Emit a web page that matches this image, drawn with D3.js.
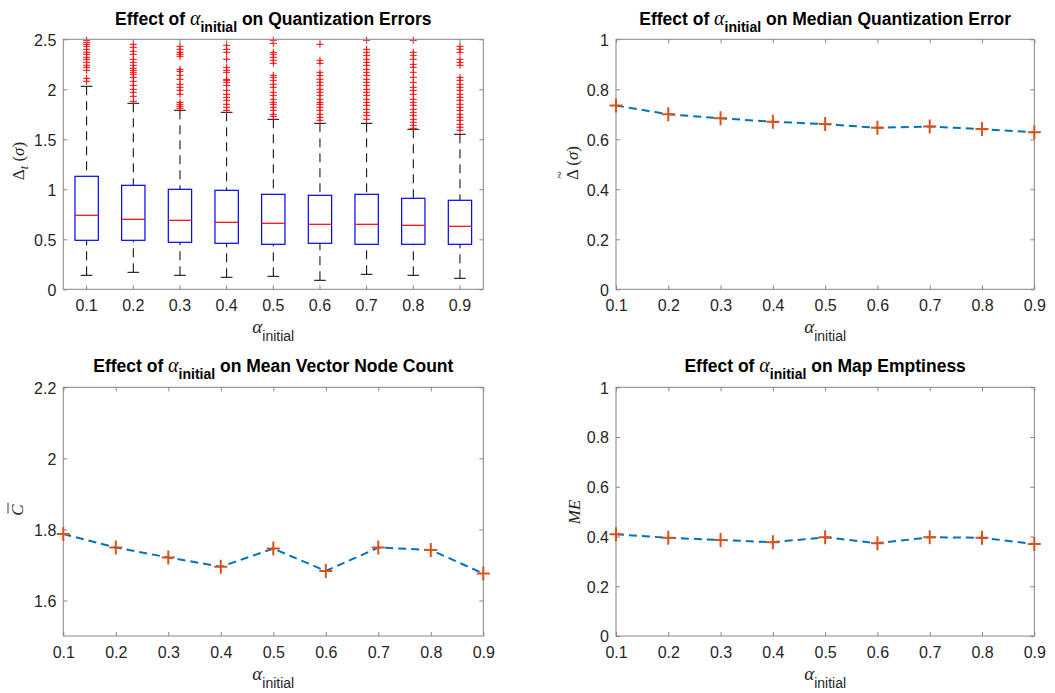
<!DOCTYPE html>
<html><head><meta charset="utf-8">
<script src="https://cdn.jsdelivr.net/npm/d3@7"></script>
<style>body{margin:0;background:#fff}svg{display:block}</style>
</head><body><svg id="c" width="1055" height="693"></svg>
<script>
// ---------------- DATA ----------------
const alphas = [0.1, 0.2, 0.3, 0.4, 0.5, 0.6, 0.7, 0.8, 0.9];
const alphaLabels = ["0.1","0.2","0.3","0.4","0.5","0.6","0.7","0.8","0.9"];

// Box plot statistics (quantization error, in sigma)
const whiskerLow  = [0.14, 0.17, 0.14, 0.12, 0.13, 0.09, 0.15, 0.14, 0.11];
const boxQ1       = [0.49, 0.49, 0.47, 0.46, 0.45, 0.46, 0.45, 0.45, 0.45];
const boxMedian   = [0.74, 0.70, 0.69, 0.67, 0.66, 0.65, 0.65, 0.64, 0.63];
const boxQ3       = [1.13, 1.04, 1.00, 0.99, 0.95, 0.94, 0.95, 0.91, 0.89];
const whiskerHigh = [2.03, 1.86, 1.79, 1.77, 1.70, 1.66, 1.66, 1.60, 1.55];

const outliers01 = [2.49, 2.47, 2.45, 2.43, 2.40, 2.37, 2.35, 2.32, 2.30, 2.27, 2.24, 2.22, 2.19, 2.11, 2.08];
const outliers02 = [2.45, 2.42, 2.38, 2.35, 2.30, 2.27, 2.24, 2.21, 2.19, 2.17, 2.15, 2.12, 2.08, 2.04, 2.00, 1.97, 1.93, 1.88];
const outliers03 = [2.43, 2.40, 2.37, 2.35, 2.33, 2.20, 2.18, 2.14, 2.10, 2.05, 2.02, 1.99, 1.95, 1.87, 1.85, 1.83, 1.81];
const outliers04 = [2.44, 2.40, 2.37, 2.30, 2.22, 2.19, 2.17, 2.10, 2.09, 2.07, 2.04, 1.99, 1.95, 1.92, 1.89, 1.85, 1.82, 1.79];
const outliers05 = [2.49, 2.46, 2.37, 2.35, 2.32, 2.29, 2.26, 2.14, 2.12, 2.09, 2.05, 2.02, 1.97, 1.94, 1.90, 1.87, 1.85, 1.82, 1.79, 1.75, 1.73];
const outliers06 = [2.45, 2.29, 2.26, 2.17, 2.14, 2.10, 2.07, 2.04, 2.00, 1.97, 1.94, 1.90, 1.87, 1.85, 1.82, 1.79, 1.75, 1.72, 1.69];
const outliers07 = [2.49, 2.40, 2.37, 2.34, 2.30, 2.27, 2.24, 2.20, 2.17, 2.14, 2.10, 2.07, 2.04, 2.00, 1.97, 1.94, 1.90, 1.87, 1.84, 1.80, 1.77, 1.74, 1.70];
const outliers08 = [2.49, 2.37, 2.34, 2.30, 2.25, 2.22, 2.17, 2.12, 2.07, 2.02, 1.99, 1.95, 1.90, 1.87, 1.84, 1.80, 1.77, 1.74, 1.70, 1.67, 1.64, 1.61];
const outliers09 = [2.43, 2.40, 2.37, 2.30, 2.27, 2.24, 2.12, 2.09, 2.05, 2.02, 1.99, 1.95, 1.92, 1.89, 1.85, 1.82, 1.79, 1.75, 1.72, 1.69, 1.65, 1.62, 1.59];

const medianError   = [0.735, 0.700, 0.684, 0.670, 0.661, 0.646, 0.651, 0.641, 0.628];
const meanNodeCount = [1.787, 1.749, 1.721, 1.695, 1.746, 1.683, 1.749, 1.742, 1.676];
const mapEmptiness  = [0.409, 0.395, 0.386, 0.377, 0.397, 0.373, 0.397, 0.395, 0.370];

const yTicksBox    = [0, 0.5, 1, 1.5, 2, 2.5];
const yTicksUnit   = [0, 0.2, 0.4, 0.6, 0.8, 1];
const yTicksCount  = [1.6, 1.8, 2, 2.2];

// ---------------- STYLE ----------------
const SANS = "'Liberation Sans', Arial, Helvetica, sans-serif";
const SERIF = "'Liberation Serif', 'DejaVu Serif', serif";
const AX = "#868686", TXT = "#262626";
const svg = d3.select("#c");

const outliers = [outliers01, outliers02, outliers03, outliers04, outliers05, outliers06, outliers07, outliers08, outliers09];
const boxes = alphaLabels.map((a, i) => ({a, lo: whiskerLow[i], q1: boxQ1[i], med: boxMedian[i], q3: boxQ3[i], hi: whiskerHigh[i], out: outliers[i]}));

function axesFrame(p, x, y, yTicks, yFmt, xTickValues) {
  const g = svg.append("g");
  // ticks inside
  const left = g.append("g").attr("transform", `translate(${p.l},0)`)
    .call(d3.axisLeft(y).tickValues(yTicks).tickFormat(yFmt).tickSize(-4).tickSizeOuter(0).tickPadding(7));
  const right = g.append("g").attr("transform", `translate(${p.r},0)`)
    .call(d3.axisRight(y).tickValues(yTicks).tickFormat("").tickSize(-4).tickSizeOuter(0));
  const bAx = d3.axisBottom(x).tickSize(-4).tickSizeOuter(0);
  const tAx = d3.axisTop(x).tickSize(-4).tickSizeOuter(0).tickFormat("");
  if (xTickValues) { bAx.tickValues(xTickValues).tickFormat((d, i) => alphaLabels[i]); tAx.tickValues(xTickValues); }
  const bottom = g.append("g").attr("transform", `translate(0,${p.b})`).call(bAx);
  const top = g.append("g").attr("transform", `translate(0,${p.t})`).call(tAx);
  [left, right, bottom, top].forEach(a => {
    a.select(".domain").remove();
    a.selectAll(".tick line").attr("stroke", AX);
    a.selectAll(".tick text").attr("fill", TXT).style("font-family", SANS).style("font-size", "16px");
  });
  left.selectAll(".tick text").attr("dy", "0.36em");
  bottom.selectAll(".tick text").attr("dy", null).attr("y", 22);
  g.append("rect").attr("x", p.l).attr("y", p.t).attr("width", p.r - p.l).attr("height", p.b - p.t)
    .attr("fill", "none").attr("stroke", AX).attr("stroke-width", 1);
  return g;
}

function title(p, y, rest) {
  const t = svg.append("text").attr("x", (p.l + p.r) / 2).attr("y", y).attr("text-anchor", "middle")
    .attr("fill", "#000").style("font-family", SANS).style("font-weight", "bold").style("font-size", "17.5px");
  t.append("tspan").text("Effect of ");
  t.append("tspan").text("α").style("font-family", SERIF).style("font-style", "italic").style("font-weight", "normal").style("font-size", "20px");
  t.append("tspan").text("initial").attr("dy", 7).style("font-size", "14px");
  t.append("tspan").text(" " + rest).attr("dy", -7);
}

function xLabel(p, y) {
  const t = svg.append("text").attr("x", (p.l + p.r) / 2).attr("y", y).attr("text-anchor", "middle")
    .attr("fill", TXT).style("font-family", SANS).style("font-size", "14px");
  t.append("tspan").text("α").style("font-family", SERIF).style("font-style", "italic").style("font-size", "19px");
  t.append("tspan").text("initial").attr("dy", 8);
}

function yLabelGroup(x, y) {
  return svg.append("g").attr("transform", `translate(${x},${y}) rotate(-90)`);
}

// ---------------- PANELS ----------------
const P1 = {l: 63.3, r: 483.3, t: 39.3, b: 289.3};
const P2 = {l: 616, r: 1034.3, t: 39.3, b: 289.3};
const P3 = {l: 63.3, r: 483.3, t: 387.3, b: 636};
const P4 = {l: 616, r: 1034.3, t: 387.3, b: 636};

// Panel 1: box plot
{
  const x = d3.scaleBand().domain(alphaLabels).range([P1.l, P1.r]).padding(0);
  const y = d3.scaleLinear().domain([0, 2.5]).range([P1.b, P1.t]);
  const fmt = d => String(d);
  const g = svg.append("g");
  const bw = x.bandwidth() / 2;
  const gb = g.selectAll("g.box").data(boxes).join("g").attr("class", "box")
    .attr("transform", d => `translate(${x(d.a) + x.bandwidth() / 2},0)`);
  // whiskers
  gb.append("line").attr("x1", 0).attr("x2", 0).attr("y1", d => y(d.hi)).attr("y2", d => y(d.q3))
    .attr("stroke", "#000").attr("stroke-dasharray", "9,6");
  gb.append("line").attr("x1", 0).attr("x2", 0).attr("y1", d => y(d.lo)).attr("y2", d => y(d.q1))
    .attr("stroke", "#000").attr("stroke-dasharray", "9,6");
  gb.append("line").attr("x1", -bw / 4).attr("x2", bw / 4).attr("y1", d => y(d.hi)).attr("y2", d => y(d.hi)).attr("stroke", "#000");
  gb.append("line").attr("x1", -bw / 4).attr("x2", bw / 4).attr("y1", d => y(d.lo)).attr("y2", d => y(d.lo)).attr("stroke", "#000");
  gb.append("rect").attr("x", -bw / 2).attr("width", bw).attr("y", d => y(d.q3)).attr("height", d => y(d.q1) - y(d.q3))
    .attr("fill", "none").attr("stroke", "#0000ff").attr("stroke-width", 1.2);
  gb.append("line").attr("x1", -bw / 2).attr("x2", bw / 2).attr("y1", d => y(d.med)).attr("y2", d => y(d.med)).attr("stroke", "#ff0000").attr("stroke-width", 1.2);
  gb.selectAll("path.out").data(d => d.out).join("path").attr("class", "out")
    .attr("d", v => `M-3.5,${y(v)}H3.5M0,${y(v) - 3.5}V${y(v) + 3.5}`)
    .attr("stroke", "#ff0000").attr("stroke-width", 1);
  axesFrame(P1, x, y, yTicksBox, fmt, null);
  title(P1, 25, "on Quantization Errors");
  xLabel(P1, 333);
  const yl = yLabelGroup(24, 161);
  const t = yl.append("text").attr("text-anchor", "middle").attr("fill", TXT).style("font-family", SERIF).style("font-size", "17px");
  t.append("tspan").text("Δ");
  t.append("tspan").text("t").attr("dy", 4).style("font-style", "italic").style("font-size", "12px");
  t.append("tspan").text(" (").attr("dy", -4);
  t.append("tspan").text("σ").style("font-style", "italic");
  t.append("tspan").text(")");
}

function linePanel(P, data, yDomain, yTicks, yFmt) {
  const x = d3.scaleLinear().domain([alphas[0], alphas[alphas.length - 1]]).range([P.l, P.r]);
  const y = d3.scaleLinear().domain(yDomain).range([P.b, P.t]);
  axesFrame(P, x, y, yTicks, yFmt, alphas);
  const pts = alphas.map((a, i) => [a, data[i]]);
  svg.append("path").datum(pts)
    .attr("d", d3.line().x(d => x(d[0])).y(d => y(d[1])))
    .attr("fill", "none").attr("stroke", "#0072BD").attr("stroke-width", 2).attr("stroke-dasharray", "8,5");
  svg.append("g").selectAll("path").data(pts).join("path")
    .attr("d", d => `M${x(d[0]) - 6.5},${y(d[1])}H${x(d[0]) + 6.5}M${x(d[0])},${y(d[1]) - 7}V${y(d[1]) + 7}`)
    .attr("stroke", "#D95319").attr("stroke-width", 2);
}

// Panel 2
{
  linePanel(P2, medianError, [0, 1], yTicksUnit, d => String(d));
  title(P2, 25, "on Median Quantization Error");
  xLabel(P2, 333);
  const yl = yLabelGroup(578, 163);
  const t = yl.append("text").attr("text-anchor", "middle").attr("fill", TXT).style("font-family", SERIF).style("font-size", "17px");
  t.append("tspan").text("Δ");
  t.append("tspan").text(" (");
  t.append("tspan").text("σ").style("font-style", "italic");
  t.append("tspan").text(")");
  const node = t.node();
  const sp = node.getStartPositionOfChar(0), w = node.getSubStringLength(0, 1);
  yl.append("text").attr("x", sp.x + w / 2).attr("y", sp.y - 13).attr("text-anchor", "middle")
    .attr("fill", TXT).style("font-family", SERIF).style("font-size", "14px").text("~");
}

// Panel 3
{
  linePanel(P3, meanNodeCount, [1.5, 2.2], yTicksCount, d => String(d));
  title(P3, 372, "on Mean Vector Node Count");
  xLabel(P3, 680);
  const yl = yLabelGroup(23, 510);
  const t = yl.append("text").attr("text-anchor", "middle").attr("fill", TXT).style("font-family", SERIF)
    .style("font-style", "italic").style("font-size", "17px").text("C");
  const bb = t.node().getBBox();
  yl.append("line").attr("x1", bb.x + 2).attr("x2", bb.x + bb.width + 1).attr("y1", -15).attr("y2", -15)
    .attr("stroke", TXT).attr("stroke-width", 0.9);
}

// Panel 4
{
  linePanel(P4, mapEmptiness, [0, 1], yTicksUnit, d => String(d));
  title(P4, 372, "on Map Emptiness");
  xLabel(P4, 680);
  const yl = yLabelGroup(580, 512);
  yl.append("text").attr("text-anchor", "middle").attr("fill", TXT).style("font-family", SERIF)
    .style("font-style", "italic").style("font-size", "17px").text("ME");
}
</script></body></html>
